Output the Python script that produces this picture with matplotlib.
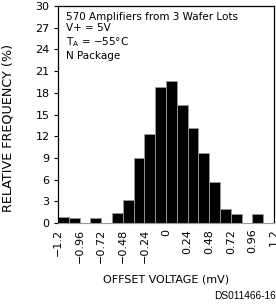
import matplotlib
matplotlib.use("Agg")
import matplotlib.pyplot as plt
import numpy as np

# histogram of offset voltage, 20 bins of 0.12 mV
bin_left = np.round(np.arange(-1.2, 1.2, 0.12), 2)
rel_freq = [0.9, 0.7, 0.0, 0.7, 0.0, 1.4, 3.2, 9.0, 12.3, 18.8,
            19.7, 16.3, 13.1, 9.7, 5.7, 2.0, 1.2, 0.0, 1.2, 0.0]

xticks = [-1.2, -0.96, -0.72, -0.48, -0.24, 0, 0.24, 0.48, 0.72, 0.96, 1.2]
xticklabels = ['\u22121.2', '\u22120.96', '\u22120.72', '\u22120.48', '\u22120.24',
               '0', '0.24', '0.48', '0.72', '0.96', '1.2']
yticks = [0, 3, 6, 9, 12, 15, 18, 21, 24, 27, 30]

fig = plt.figure(figsize=(2.76, 3.04), dpi=100)
ax = fig.add_axes([0.21, 0.266, 0.783, 0.714])

ax.bar(bin_left, rel_freq, width=0.12, align='edge', color='black',
       edgecolor='#9a9a9a', linewidth=0.6)

ax.set_xlim(-1.2, 1.2)
ax.set_ylim(0, 30)
ax.set_xticks(xticks)
ax.set_xticklabels(xticklabels, rotation=90, va='top', ha='center')
ax.set_yticks(yticks)
ax.tick_params(axis='x', length=0, pad=4, labelsize=8)
ax.tick_params(axis='y', direction='out', length=3, width=0.8, pad=3, labelsize=8)

for s in ['left', 'top', 'right']:
    ax.spines[s].set_linewidth(0.9)
ax.spines['bottom'].set_color('#9a9a9a')
ax.spines['bottom'].set_linewidth(0.8)

ax.set_ylabel('RELATIVE FREQUENCY (%)', fontsize=9.2)
ax.yaxis.set_label_coords(-0.2, 0.44)
ax.set_xlabel('OFFSET VOLTAGE (mV)', fontsize=8, labelpad=8)

ax.text(0.035, 0.975, '570 Amplifiers from 3 Wafer Lots\nV+ = 5V\n'
        r'T$_\mathregular{A}$ = $-$55°C' '\nN Package',
        transform=ax.transAxes, ha='left', va='top', fontsize=7.5,
        linespacing=1.2)

fig.text(0.998, 0.01, 'DS011466-16', ha='right', va='bottom', fontsize=7.3,
         family='Liberation Sans')

fig.savefig('out.png', dpi=100)
